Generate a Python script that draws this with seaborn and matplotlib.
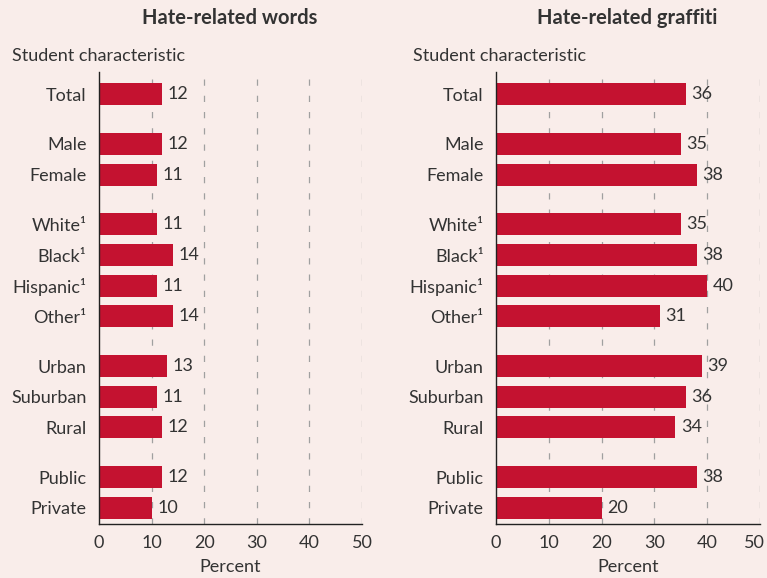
# Hate-related words and graffiti by student characteristic
import numpy as np
import pandas as pd
import matplotlib
matplotlib.use("Agg")
import matplotlib.pyplot as plt
import matplotlib.transforms as mtransforms
import seaborn as sns

# data
categories = ["Total", "Male", "Female", "White\u00b9", "Black\u00b9", "Hispanic\u00b9", "Other\u00b9",
              "Urban", "Suburban", "Rural", "Public", "Private"]
groups = [0, 1, 1, 2, 2, 2, 2, 3, 3, 3, 4, 4]
words_pct = [12, 12, 11, 11, 14, 11, 14, 13, 11, 12, 12, 10]
graffiti_pct = [36, 35, 38, 35, 38, 40, 31, 39, 36, 34, 38, 20]
x_ticks = [0, 10, 20, 30, 40, 50]

BG = "#F9EDEA"
BAR = "#C41230"
TXT = "#333333"
FS = 13

sns.set_theme(style="white")
plt.rcParams["font.family"] = ["Lato", "DejaVu Sans"]
plt.rcParams["text.color"] = TXT

# row positions with an extra gap between groups
gap = 0.63
pos = [i + groups[i] * gap for i in range(len(categories))]

fig = plt.figure(figsize=(7.67, 5.78), dpi=100, facecolor=BG)
ax1 = fig.add_axes([0.129, 0.0934, 0.343, 0.782])
ax2 = fig.add_axes([0.6467, 0.0934, 0.344, 0.782])

panels = [(ax1, words_pct, "Hate-related words"), (ax2, graffiti_pct, "Hate-related graffiti")]
for ax, vals, title in panels:
    df = pd.DataFrame({"pos": pos, "pct": vals})
    ax.set_facecolor(BG)
    sns.barplot(data=df, x="pct", y="pos", orient="h", native_scale=True,
                color=BAR, saturation=1, width=0.72, linewidth=0, ax=ax, zorder=3)
    ax.bar_label(ax.containers[0], labels=[str(v) for v in vals], padding=4,
                 fontsize=FS, color=TXT)
    ax.set_ylim(14.05, -0.72)
    ax.set_xlim(0, 50)
    ax.set_yticks(pos)
    ax.set_yticklabels(categories, fontsize=FS, color=TXT)
    ax.set_xticks(x_ticks)
    ax.set_xticklabels([str(t) for t in x_ticks], fontsize=FS, color=TXT)
    ax.tick_params(axis="y", length=0, pad=9)
    ax.tick_params(axis="x", direction="in", length=4, width=0.8, color="#999999", pad=8)
    ax.set_xlabel("Percent", fontsize=FS, color=TXT, labelpad=6)
    ax.set_ylabel("")
    for t in x_ticks[1:]:
        ax.axvline(t, color="#A0A0A0", lw=0.9, ls=(0, (5, 8)), zorder=1)
    sns.despine(ax=ax)
    for s in ["left", "bottom"]:
        ax.spines[s].set_color("#222222")
        ax.spines[s].set_linewidth(1.0)
    ax.spines["left"].set_zorder(4)

# keep the last tick label of the right panel inside the figure
last = ax2.get_xticklabels()[-1]
last.set_transform(last.get_transform() + mtransforms.ScaledTranslation(-5 / 100, 0, fig.dpi_scale_trans))

fig.text(0.30, 0.968, "Hate-related words", ha="center", va="center",
         fontsize=14.5, fontweight="bold", color=TXT)
fig.text(0.818, 0.968, "Hate-related graffiti", ha="center", va="center",
         fontsize=14.5, fontweight="bold", color=TXT)
fig.text(0.0156, 0.903, "Student characteristic", ha="left", va="center", fontsize=FS, color=TXT)
fig.text(0.5385, 0.903, "Student characteristic", ha="left", va="center", fontsize=FS, color=TXT)

fig.savefig("out.png", dpi=100, facecolor=BG)
